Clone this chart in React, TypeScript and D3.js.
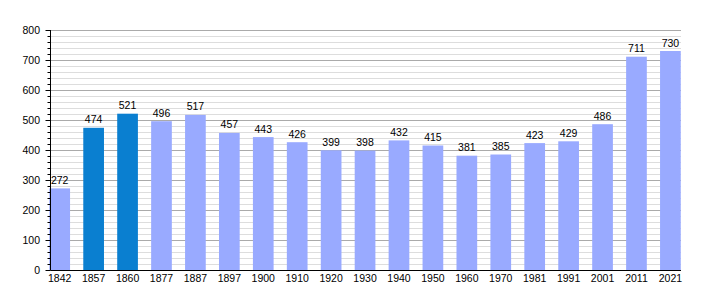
import React from "react";
import * as d3 from "d3";

const years = ["1842","1857","1860","1877","1887","1897","1900","1910","1920","1930","1940","1950","1960","1970","1981","1991","2001","2011","2021"];
const population = [272,474,521,496,517,457,443,426,399,398,432,415,381,385,423,429,486,711,730];
const highlighted = ["1857","1860"];
const yTicks = [0,100,200,300,400,500,600,700,800];

const W = 710, H = 300;
const FONT = "'Liberation Sans', Arial, sans-serif";

export default function App() {
  const y = d3.scaleLinear().domain([0, 800]).range([270, 30]);
  const x = d3.scalePoint<string>().domain(years).range([59.7, 670.4]);
  const bw = 20.7;
  const axisX = 50.5;
  const gridEnd = 681;
  const minor = d3.range(0, 801, 20).filter((v) => v % 100 !== 0);

  return (
    <svg width={W} height={H} style={{ position: "absolute", left: 0, top: 0, display: "block" }} fontFamily={FONT}>
      <rect width={W} height={H} fill="#fff" />
      {minor.map((v) => (
        <line key={"mg" + v} x1={axisX} x2={gridEnd} y1={Math.round(y(v)) + 0.5} y2={Math.round(y(v)) + 0.5} stroke="#dddddd" strokeWidth={1} />
      ))}
      {yTicks.filter((v) => v > 0).map((v) => (
        <line key={"g" + v} x1={axisX} x2={gridEnd} y1={Math.round(y(v)) + 0.5} y2={Math.round(y(v)) + 0.5} stroke="#aaaaaa" strokeWidth={1} />
      ))}
      {years.map((yr, i) => (
        <rect
          key={yr}
          x={(x(yr) as number) - bw / 2}
          y={y(population[i])}
          width={bw}
          height={y(0) - y(population[i])}
          fill={highlighted.includes(yr) ? "#0a7fd0" : "#99aaff"}
        />
      ))}
      {years.map((yr, i) => (
        <text key={"v" + yr} x={x(yr) as number} y={y(population[i]) - 4.5} textAnchor="middle" fontSize={10.5} fill="#000">
          {population[i]}
        </text>
      ))}
      {minor.map((v) => (
        <line key={"mt" + v} x1={axisX - 3} x2={axisX} y1={Math.round(y(v)) + 0.5} y2={Math.round(y(v)) + 0.5} stroke="#000" />
      ))}
      {yTicks.map((v) => (
        <g key={"t" + v}>
          <line x1={axisX - 5} x2={axisX} y1={Math.round(y(v)) + 0.5} y2={Math.round(y(v)) + 0.5} stroke="#000" />
          <text x={40} y={y(v)} dy="0.35em" textAnchor="end" fontSize={10.5} fill="#000">{v}</text>
        </g>
      ))}
      <line x1={axisX} x2={axisX} y1={30} y2={270.5} stroke="#000" />
      <line x1={axisX} x2={gridEnd} y1={270.5} y2={270.5} stroke="#000" />
      {years.map((yr) => (
        <text key={"x" + yr} x={x(yr) as number} y={282} textAnchor="middle" fontSize={10.5} fill="#000">{yr}</text>
      ))}
    </svg>
  );
}
